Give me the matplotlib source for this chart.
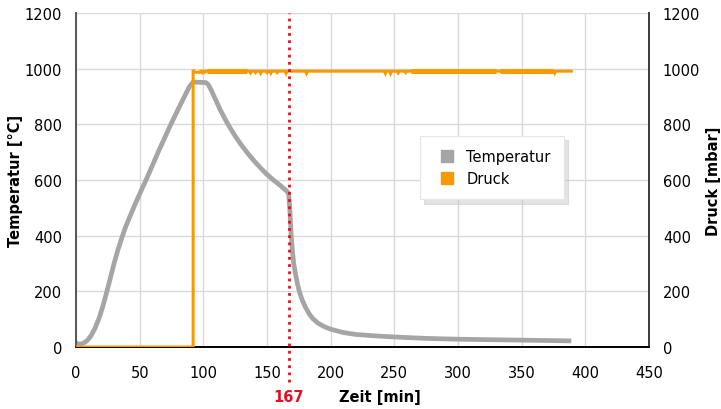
import numpy as np
import matplotlib.pyplot as plt
from matplotlib.lines import Line2D
import matplotlib.transforms as mtransforms

# Temperaturverlauf
zeit_temp = [0, 3, 6, 9, 12, 15, 18, 21, 24, 27, 30, 33, 36, 39, 45, 50, 55, 60, 65,
             70, 75, 80, 85, 89, 92, 102, 104, 106, 108, 110, 113, 116, 120, 125,
             130, 135, 140, 145, 150, 155, 160, 165, 167,
             168, 169, 170, 171, 172.5, 174, 176, 178, 180, 183, 186, 190, 195,
             200, 210, 220, 235, 250, 275, 300, 330, 360, 389]
temperatur = [14, 10, 14, 24, 42, 68, 102, 145, 195, 248, 302, 350, 392, 432, 498, 550,
              600, 652, 705, 755, 805, 852, 898, 935, 952, 950, 942, 925, 905, 885,
              855, 828, 795, 758, 725, 695, 668, 643, 620, 600, 582, 562, 552,
              490, 400, 345, 300, 260, 225, 190, 165, 145, 120, 102, 86, 73,
              64, 52, 45, 40, 36, 31, 28, 26, 24, 22]

# Druckverlauf: Sprung bei ca. 92 min, danach ~990 mbar
zeit_druck = [0, 92, 92, 93, 97, 98, 389]
druck = [0, 0, 996, 987, 987, 991, 991]
# kleine Einbrüche (Zeit, Tiefe in mbar)
dip_zeiten = [99, 101, 137, 141, 145, 150, 153, 158, 165, 181,
              243, 247, 253, 259, 376]
dip_tiefe = [5, 4, 6, 5, 7, 5, 7, 5, 8, 8,
             8, 8, 6, 5, 7]
# Bereiche mit stärkerem Rauschen (Start, Ende)
rausch_start = [103, 263, 333]
rausch_ende = [134, 330, 375]

markierung = 167

pt = list(zeit_druck)
pv = list(druck)
for t, d in zip(dip_zeiten, dip_tiefe):
    pt += [t - 0.8, t, t + 0.8]
    pv += [991, 991 - d, 991]
order = np.argsort(pt, kind="stable")
pt = np.array(pt)[order]
pv = np.array(pv)[order]

grau = "#A5A5A5"
orange = "#F59A00"
rot = "#E3101E"

plt.rcParams["font.family"] = ["DejaVu Sans"]
plt.rcParams["font.size"] = 10.5

fig = plt.figure(figsize=(7.21, 4.10), dpi=100)
ax = fig.add_axes([0.1054, 0.1512, 0.7947, 0.8147])
ax2 = ax.twinx()

ax.plot(zeit_temp, temperatur, color=grau, lw=3.4, solid_capstyle="butt",
        solid_joinstyle="round", zorder=3)
ax2.plot(pt, pv, color=orange, lw=2.2, solid_joinstyle="miter", zorder=3)
for s, e in zip(rausch_start, rausch_ende):
    ax2.plot([s, e], [990, 990], color=orange, lw=3.6, solid_capstyle="butt", zorder=3)

ax.set_xlim(0, 450)
ax.set_ylim(0, 1200)
ax2.set_ylim(0, 1200)
ax.set_xticks(np.arange(0, 451, 50))
ax.set_yticks(np.arange(0, 1201, 200))
ax2.set_yticks(np.arange(0, 1201, 200))

ax.grid(True, color="#D9D9D9", lw=1.0)
ax.set_axisbelow(True)

for a in (ax, ax2):
    a.spines["top"].set_visible(False)
    a.spines["left"].set_color("#595959")
    a.spines["right"].set_color("#404040")
    a.spines["bottom"].set_color("black")
    a.spines["left"].set_linewidth(1.4)
    a.spines["right"].set_linewidth(1.4)
    a.spines["bottom"].set_linewidth(1.2)
ax.tick_params(axis="both", length=0, labelsize=10.5)
ax.tick_params(axis="x", pad=13)
ax.tick_params(axis="y", pad=10)
ax2.tick_params(axis="y", length=0, pad=10, labelsize=10.5)

ax.set_ylabel("Temperatur [°C]", fontweight="bold", fontsize=10.5, labelpad=1)
ax2.set_ylabel("Druck [mbar]", fontweight="bold", fontsize=10.5, rotation=90, labelpad=4)

# rote Markierung
trans = mtransforms.blended_transform_factory(ax.transData, ax.transAxes)
ax2.plot([markierung, markierung], [-0.105, 1.0], transform=trans, color=rot,
         ls=(0, (1, 1.6)), lw=2.0, clip_on=False, zorder=5)
ax.text(markierung, -0.147, str(markierung), transform=trans, color=rot,
        fontweight="bold", fontsize=10.5, ha="center", va="center")
ax.text(0.53, -0.147, "Zeit [min]", transform=ax.transAxes, fontweight="bold",
        fontsize=10.5, ha="center", va="center")

handles = [Line2D([], [], color=grau, marker="s", ls="none", markersize=8),
           Line2D([], [], color=orange, marker="s", ls="none", markersize=8)]
leg = ax2.legend(handles, ["Temperatur", "Druck"], loc="upper left",
                 bbox_to_anchor=(0.60, 0.632), frameon=True, fancybox=False,
                 edgecolor="#E5E5E5", fontsize=10.5, handletextpad=0.3,
                 borderpad=0.9, labelspacing=0.5, borderaxespad=0,
                 shadow={"color": "#C8C8C8", "alpha": 0.5, "ox": 3, "oy": -3})
leg.get_frame().set_linewidth(0.8)

fig.savefig("out.png", dpi=100)
